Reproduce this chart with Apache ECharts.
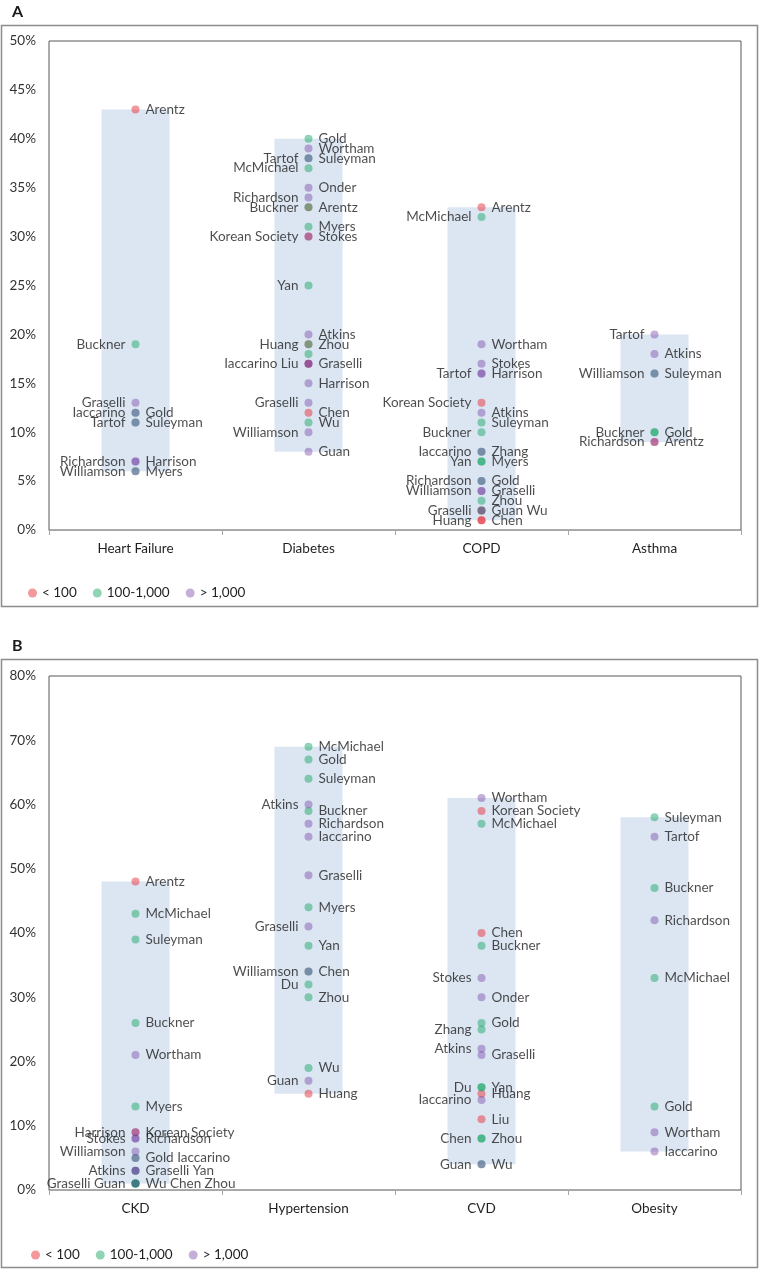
<!DOCTYPE html>
<html><head><meta charset="utf-8">
<script src="https://cdn.jsdelivr.net/npm/echarts@6/dist/echarts.min.js"></script>
<style>html,body{margin:0;padding:0;background:#fff}#c{width:760px;height:1270px}</style>
</head><body><div id="c"></div>
<script>
// ---------- DATA ----------
const categoriesA = ['Heart Failure', 'Diabetes', 'COPD', 'Asthma'];
const categoriesB = ['CKD', 'Hypertension', 'CVD', 'Obesity'];
const groups = ['< 100', '100-1,000', '> 1,000'];
const yMaxA = 50, yStepA = 5;
const yMaxB = 80, yStepB = 10;

// [category, value %, size group index, study, label side]
const pointsA = [
  ['Heart Failure', 43, 0, 'Arentz', 'R'],
  ['Heart Failure', 19, 1, 'Buckner', 'L'],
  ['Heart Failure', 13, 2, 'Graselli', 'L'],
  ['Heart Failure', 12, 2, 'Iaccarino', 'L'],
  ['Heart Failure', 12, 1, 'Gold', 'R'],
  ['Heart Failure', 11, 2, 'Tartof', 'L'],
  ['Heart Failure', 11, 1, 'Suleyman', 'R'],
  ['Heart Failure', 7, 2, 'Richardson', 'L'],
  ['Heart Failure', 7, 2, 'Harrison', 'R'],
  ['Heart Failure', 6, 2, 'Williamson', 'L'],
  ['Heart Failure', 6, 1, 'Myers', 'R'],

  ['Diabetes', 40, 1, 'Gold', 'R'],
  ['Diabetes', 39, 2, 'Wortham', 'R'],
  ['Diabetes', 38, 2, 'Tartof', 'L'],
  ['Diabetes', 38, 1, 'Suleyman', 'R'],
  ['Diabetes', 37, 1, 'McMichael', 'L'],
  ['Diabetes', 35, 2, 'Onder', 'R'],
  ['Diabetes', 34, 2, 'Richardson', 'L'],
  ['Diabetes', 33, 1, 'Buckner', 'L'],
  ['Diabetes', 33, 0, 'Arentz', 'R'],
  ['Diabetes', 31, 1, 'Myers', 'R'],
  ['Diabetes', 30, 0, 'Korean Society', 'L'],
  ['Diabetes', 30, 2, 'Stokes', 'R'],
  ['Diabetes', 25, 1, 'Yan', 'L'],
  ['Diabetes', 20, 2, 'Atkins', 'R'],
  ['Diabetes', 19, 0, 'Huang', 'L'],
  ['Diabetes', 19, 1, 'Zhou', 'R'],
  ['Diabetes', 18, 1, '', ''],
  ['Diabetes', 17, 2, 'Iaccarino', 'L'],
  ['Diabetes', 17, 0, 'Liu', 'L'],
  ['Diabetes', 17, 2, 'Graselli', 'R'],
  ['Diabetes', 15, 2, 'Harrison', 'R'],
  ['Diabetes', 13, 2, 'Graselli', 'L'],
  ['Diabetes', 12, 0, 'Chen', 'R'],
  ['Diabetes', 11, 1, 'Wu', 'R'],
  ['Diabetes', 10, 2, 'Williamson', 'L'],
  ['Diabetes', 8, 2, 'Guan', 'R'],

  ['COPD', 33, 0, 'Arentz', 'R'],
  ['COPD', 32, 1, 'McMichael', 'L'],
  ['COPD', 19, 2, 'Wortham', 'R'],
  ['COPD', 17, 2, 'Stokes', 'R'],
  ['COPD', 16, 2, 'Tartof', 'L'],
  ['COPD', 16, 2, 'Harrison', 'R'],
  ['COPD', 13, 0, 'Korean Society', 'L'],
  ['COPD', 12, 2, 'Atkins', 'R'],
  ['COPD', 11, 1, 'Suleyman', 'R'],
  ['COPD', 10, 1, 'Buckner', 'L'],
  ['COPD', 8, 2, 'Iaccarino', 'L'],
  ['COPD', 8, 1, 'Zhang', 'R'],
  ['COPD', 7, 1, 'Yan', 'L'],
  ['COPD', 7, 1, 'Myers', 'R'],
  ['COPD', 5, 2, 'Richardson', 'L'],
  ['COPD', 5, 1, 'Gold', 'R'],
  ['COPD', 4, 2, 'Williamson', 'L'],
  ['COPD', 4, 2, 'Graselli', 'R'],
  ['COPD', 3, 1, 'Zhou', 'R'],
  ['COPD', 2, 2, 'Graselli', 'L'],
  ['COPD', 2, 0, 'Guan', 'R'],
  ['COPD', 2, 1, 'Wu', 'R'],
  ['COPD', 1, 0, 'Huang', 'L'],
  ['COPD', 1, 0, 'Chen', 'R'],

  ['Asthma', 20, 2, 'Tartof', 'L'],
  ['Asthma', 18, 2, 'Atkins', 'R'],
  ['Asthma', 16, 2, 'Williamson', 'L'],
  ['Asthma', 16, 1, 'Suleyman', 'R'],
  ['Asthma', 10, 1, 'Buckner', 'L'],
  ['Asthma', 10, 1, 'Gold', 'R'],
  ['Asthma', 9, 2, 'Richardson', 'L'],
  ['Asthma', 9, 0, 'Arentz', 'R']
];

const pointsB = [
  ['CKD', 48, 0, 'Arentz', 'R'],
  ['CKD', 43, 1, 'McMichael', 'R'],
  ['CKD', 39, 1, 'Suleyman', 'R'],
  ['CKD', 26, 1, 'Buckner', 'R'],
  ['CKD', 21, 2, 'Wortham', 'R'],
  ['CKD', 13, 1, 'Myers', 'R'],
  ['CKD', 9, 2, 'Harrison', 'L'],
  ['CKD', 9, 0, 'Korean Society', 'R'],
  ['CKD', 8, 2, 'Stokes', 'L'],
  ['CKD', 8, 2, 'Richardson', 'R'],
  ['CKD', 6, 2, 'Williamson', 'L'],
  ['CKD', 5, 1, 'Gold', 'R'],
  ['CKD', 5, 2, 'Iaccarino', 'R'],
  ['CKD', 3, 2, 'Atkins', 'L'],
  ['CKD', 3, 2, 'Graselli', 'R'],
  ['CKD', 3, 1, 'Yan', 'R'],
  ['CKD', 1, 2, 'Graselli', 'L'],
  ['CKD', 1, 1, 'Guan', 'L'],
  ['CKD', 1, 1, 'Wu', 'R'],
  ['CKD', 1, 1, 'Chen', 'R'],
  ['CKD', 1, 1, 'Zhou', 'R'],

  ['Hypertension', 69, 1, 'McMichael', 'R'],
  ['Hypertension', 67, 1, 'Gold', 'R'],
  ['Hypertension', 64, 1, 'Suleyman', 'R'],
  ['Hypertension', 60, 2, 'Atkins', 'L'],
  ['Hypertension', 59, 1, 'Buckner', 'R'],
  ['Hypertension', 57, 2, 'Richardson', 'R'],
  ['Hypertension', 55, 2, 'Iaccarino', 'R'],
  ['Hypertension', 49, 2, 'Graselli', 'R'],
  ['Hypertension', 44, 1, 'Myers', 'R'],
  ['Hypertension', 41, 2, 'Graselli', 'L'],
  ['Hypertension', 38, 1, 'Yan', 'R'],
  ['Hypertension', 34, 2, 'Williamson', 'L'],
  ['Hypertension', 34, 1, 'Chen', 'R'],
  ['Hypertension', 32, 1, 'Du', 'L'],
  ['Hypertension', 30, 1, 'Zhou', 'R'],
  ['Hypertension', 19, 1, 'Wu', 'R'],
  ['Hypertension', 17, 2, 'Guan', 'L'],
  ['Hypertension', 15, 0, 'Huang', 'R'],

  ['CVD', 61, 2, 'Wortham', 'R'],
  ['CVD', 59, 0, 'Korean Society', 'R'],
  ['CVD', 57, 1, 'McMichael', 'R'],
  ['CVD', 40, 0, 'Chen', 'R'],
  ['CVD', 38, 1, 'Buckner', 'R'],
  ['CVD', 33, 2, 'Stokes', 'L'],
  ['CVD', 30, 2, 'Onder', 'R'],
  ['CVD', 26, 1, 'Gold', 'R'],
  ['CVD', 25, 1, 'Zhang', 'L'],
  ['CVD', 22, 2, 'Atkins', 'L'],
  ['CVD', 21, 2, 'Graselli', 'R'],
  ['CVD', 16, 1, 'Du', 'L'],
  ['CVD', 16, 1, 'Yan', 'R'],
  ['CVD', 15, 0, 'Huang', 'R'],
  ['CVD', 14, 2, 'Iaccarino', 'L'],
  ['CVD', 11, 0, 'Liu', 'R'],
  ['CVD', 8, 1, 'Chen', 'L'],
  ['CVD', 8, 1, 'Zhou', 'R'],
  ['CVD', 4, 2, 'Guan', 'L'],
  ['CVD', 4, 1, 'Wu', 'R'],

  ['Obesity', 58, 1, 'Suleyman', 'R'],
  ['Obesity', 55, 2, 'Tartof', 'R'],
  ['Obesity', 47, 1, 'Buckner', 'R'],
  ['Obesity', 42, 2, 'Richardson', 'R'],
  ['Obesity', 33, 1, 'McMichael', 'R'],
  ['Obesity', 13, 1, 'Gold', 'R'],
  ['Obesity', 9, 2, 'Wortham', 'R'],
  ['Obesity', 6, 2, 'Iaccarino', 'R']
];

// ---------- STYLE ----------
const FONT = 'Lato';
const FS = 13.5;
const groupColors = ['rgba(230,40,50,0.6)', 'rgba(20,165,100,0.6)', 'rgba(110,55,160,0.5)'];
const rangeColor = '#dce6f2';
const textColor = '#1f1f1f';

function buildSeries(points, categories, gi) {
  // Join labels of studies sharing the same category, value and side into one line
  const firstIdx = {};
  const labelText = points.map(() => '');
  points.forEach((p, i) => {
    if (!p[3]) return;
    const k = p[0] + '|' + p[1] + '|' + p[4];
    if (k in firstIdx) labelText[firstIdx[k]] += ' ' + p[3];
    else { firstIdx[k] = i; labelText[i] = p[3]; }
  });
  const mins = categories.map(c => Math.min(...points.filter(p => p[0] === c).map(p => p[1])));
  const maxs = categories.map(c => Math.max(...points.filter(p => p[0] === c).map(p => p[1])));
  const out = [];
  out.push({
    type: 'bar', xAxisIndex: gi, yAxisIndex: gi, stack: 'range' + gi, silent: true,
    barWidth: 68, z: 1, itemStyle: { color: 'rgba(0,0,0,0)' }, data: mins
  });
  out.push({
    type: 'bar', xAxisIndex: gi, yAxisIndex: gi, stack: 'range' + gi, silent: true,
    barWidth: 68, z: 1, itemStyle: { color: rangeColor }, data: maxs.map((m, i) => m - mins[i])
  });
  groups.forEach((g, gIdx) => {
    const data = [];
    points.forEach((p, i) => {
      if (p[2] !== gIdx) return;
      data.push({
        value: [categories.indexOf(p[0]), p[1]],
        label: {
          show: !!labelText[i],
          formatter: labelText[i],
          position: p[4] === 'L' ? 'left' : 'right'
        }
      });
    });
    out.push({
      type: 'scatter', name: g, xAxisIndex: gi, yAxisIndex: gi, z: 3,
      symbolSize: 8, itemStyle: { color: groupColors[gIdx] },
      label: { distance: 6, fontFamily: FONT, fontSize: FS, color: textColor },
      emphasis: { disabled: true },
      data
    });
  });
  return out;
}

const chart = echarts.init(document.getElementById('c'), null, { renderer: 'canvas' });

function xAxisOf(cats, gi) {
  return {
    type: 'category', gridIndex: gi, data: cats,
    axisLine: { show: true, lineStyle: { color: '#a6a6a6' } },
    axisTick: { show: true, length: 5, lineStyle: { color: '#a6a6a6' } },
    axisLabel: { margin: 12, fontFamily: FONT, fontSize: FS, color: textColor },
    splitLine: { show: false }
  };
}
function yAxisOf(max, step, gi) {
  return {
    type: 'value', gridIndex: gi, min: 0, max: max, interval: step,
    axisLine: { show: false }, axisTick: { show: false }, splitLine: { show: false },
    axisLabel: { margin: 13, fontFamily: FONT, fontSize: FS, color: '#333', formatter: '{value}%' }
  };
}
const legendBase = {
  data: groups, icon: 'circle', itemWidth: 9, itemHeight: 9, itemGap: 16,
  selectedMode: false,
  textStyle: { fontFamily: FONT, fontSize: FS, color: textColor }
};

chart.setOption({
  animation: false,
  backgroundColor: '#fff',
  grid: [
    { left: 49, top: 41, width: 692, height: 489, show: true, borderColor: '#595959', borderWidth: 1 },
    { left: 49, top: 676, width: 692, height: 514, show: true, borderColor: '#595959', borderWidth: 1 }
  ],
  xAxis: [xAxisOf(categoriesA, 0), xAxisOf(categoriesB, 1)],
  yAxis: [yAxisOf(yMaxA, yStepA, 0), yAxisOf(yMaxB, yStepB, 1)],
  legend: [
    Object.assign({ left: 23, top: 581 }, legendBase),
    Object.assign({ left: 26, top: 1243 }, legendBase)
  ],
  graphic: [
    { type: 'rect', shape: { x: 1.5, y: 25.5, width: 756, height: 581 }, style: { fill: 'none', stroke: '#8c8c8c', lineWidth: 1.5 }, silent: true, z: 0 },
    { type: 'rect', shape: { x: 1.5, y: 659.5, width: 756, height: 608 }, style: { fill: 'none', stroke: '#8c8c8c', lineWidth: 1.5 }, silent: true, z: 0 },
    { type: 'text', left: 12, top: 4, style: { text: 'A', font: 'bold 16px ' + FONT, fill: '#1a1a1a' } },
    { type: 'text', left: 12, top: 638, style: { text: 'B', font: 'bold 16px ' + FONT, fill: '#1a1a1a' } }
  ],
  series: buildSeries(pointsA, categoriesA, 0).concat(buildSeries(pointsB, categoriesB, 1))
});
</script>
</body></html>
